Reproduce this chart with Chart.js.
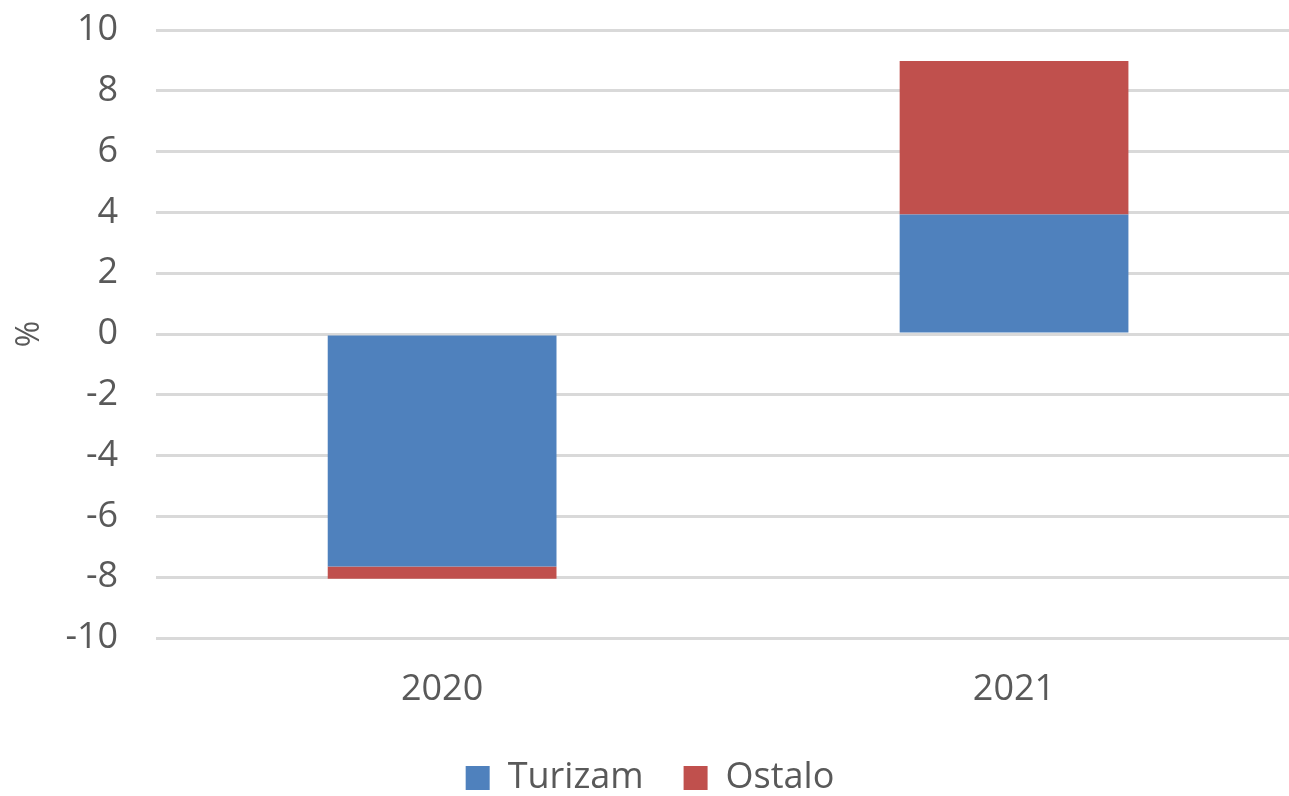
<!DOCTYPE html>
<html lang="hr">
  <head>
    <meta charset="UTF-8" />
    <title>Turizam i ostalo</title>
    <script src="https://cdn.jsdelivr.net/npm/chart.js"></script>
    <style>
      body {
        margin: 0;
        background: #ffffff;
        overflow: hidden;
      }
      #wrap {
        position: absolute;
        left: 0;
        top: 0;
      }
    </style>
  </head>
  <body>
    <div id="wrap">
      <canvas id="myChart" width="1300" height="806"></canvas>
    </div>
    <script>
      const years = ["2020", "2021"];
      const turizam = [-7.65, 3.93];
      const ostalo = [-0.4, 5.05];

      const textColor = "#595959";
      const fontFamily = "'Open Sans', sans-serif";

      const ctx = document.getElementById("myChart").getContext("2d");
      new Chart(ctx, {
        type: "bar",
        data: {
          labels: years,
          datasets: [
            {
              label: "Turizam",
              data: turizam,
              backgroundColor: "#4F81BD",
              borderWidth: 0,
            },
            {
              label: "Ostalo",
              data: ostalo,
              backgroundColor: "#C0504D",
              borderWidth: 0,
            },
          ],
        },
        options: {
          responsive: false,
          animation: false,
          layout: {
            padding: { top: 30, left: 0, right: 0, bottom: 0 },
          },
          datasets: {
            bar: { barPercentage: 0.4, categoryPercentage: 1 },
          },
          scales: {
            x: {
              stacked: true,
              grid: { display: false, drawTicks: false },
              border: { display: false },
              ticks: {
                color: textColor,
                padding: 30,
                font: { family: fontFamily, size: 36 },
              },
              // padding is counted on both sides of the labels, keep only one
              afterFit: function (scale) {
                scale.height = 82;
              },
            },
            y: {
              stacked: true,
              min: -10,
              max: 10,
              border: { display: false },
              grid: {
                color: "#d9d9d9",
                lineWidth: 3,
                drawTicks: false,
              },
              ticks: {
                stepSize: 2,
                color: textColor,
                padding: 38,
                font: { family: fontFamily, size: 36 },
              },
              title: {
                display: true,
                text: "%",
                color: textColor,
                padding: { top: 11, bottom: -22 },
                font: { family: fontFamily, size: 32 },
              },
              afterFit: function (scale) {
                scale.paddingTop = 0;
                scale.paddingBottom = 0;
              },
            },
          },
          plugins: {
            tooltip: { enabled: false },
            legend: {
              position: "bottom",
              labels: {
                color: textColor,
                boxWidth: 24,
                boxHeight: 24,
                padding: 40,
                font: { family: fontFamily, size: 36 },
              },
            },
          },
        },
      });
    </script>
  </body>
</html>
